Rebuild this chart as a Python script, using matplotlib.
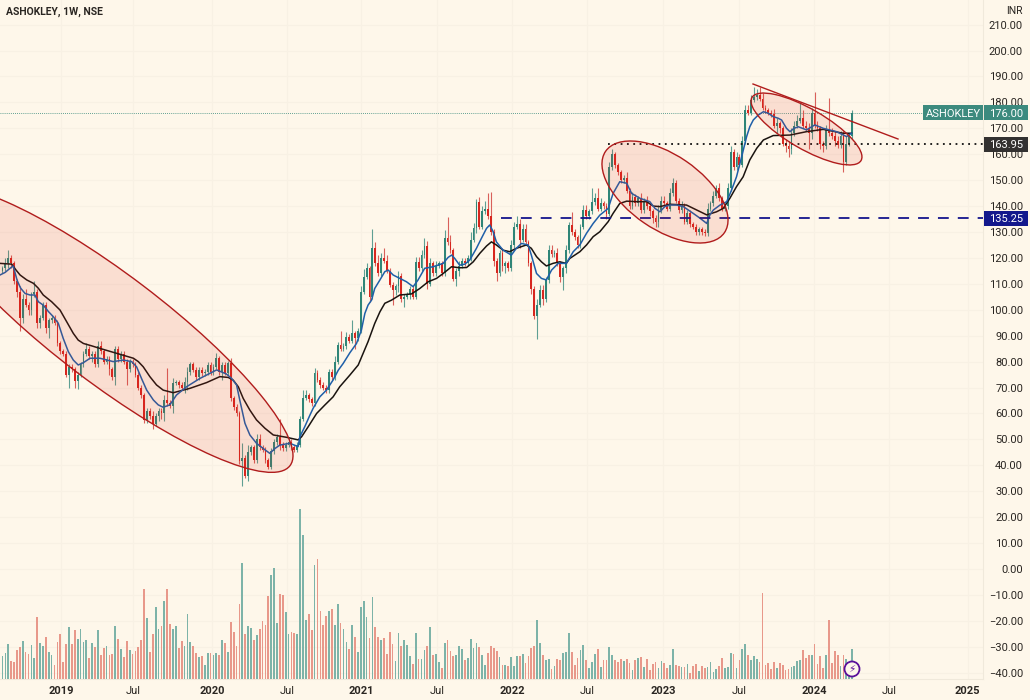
import numpy as np
import matplotlib
matplotlib.use('Agg')
import matplotlib.pyplot as plt
from matplotlib.patches import Ellipse, Rectangle, Circle

plt.rcParams['font.family'] = ['Roboto', 'DejaVu Sans']

# weekly closes, open of a week is taken as the previous close
closes = [
    116,118,120,118,111,107,97,104,102,100,
    106,107,95,97,102,93,96,97,95,87,
    84,83,75,78,77,72.5,75,79,83,85,
    82,83,79,86,84,80,81,77,74,85,
    81,83,80,77,80,79,75,70,67,57.5,
    61,59,56,59,61,60,65,64,63,71.8,
    72,71,70,72,76,79,76.8,74,76.8,75.5,
    76,78.7,76,78,81.3,76,78.7,75.7,79.3,65.8,
    62.5,60,41.5,43,36,45,47,42,50,47,
    46,42,39.5,45.5,49,51,47.8,46.5,48,49,
    47,46,48,58,66,67,65.5,64,75.6,73,
    71,70,69,76,74,80,86.4,85,86,89.6,
    88,91,89,92,107,112.7,116,105,124,118,
    114,120,119,115,109.6,107.6,109,113,104,105,
    106,108,105,118.4,116,121,124.6,110,118,114,
    117,118,114,127.7,126,123,112,115,117,119,
    118,120,127,131.5,141.6,132,138,139,136,130,
    119,114,122,117,118,116,125,132,133,127,
    131,126,118,108,97.6,102,107.6,104,111.5,123,
    121.5,122,118,112.6,116,123,132.7,130,128,125,
    132,138.5,136,138,141.5,143,139,141,140,137,
    155,160,155.8,153,150,151,146,140,143.5,141,
    143,138.5,142,140,138,135.5,134,138.5,142,141,
    139,145,149,142,138.5,140,134,137.5,133,132,
    130,131,130,129.5,139,141,144,147,143,139,
    140,147,161,155,159,156,165,177,176,181,
    182,183,181.5,178,177,176,175.5,171,172,170,
    164,163,162,168,171,173,174,171,170,168,
    176,171,170,164,163,169.3,168,167,165,163.5,
    167,157,164,167,176,
]
first_open = 115

up_wicks = [
    1,2,3,1,1,1,2,2,4,1,
    1,4,1,1,1,1,1,1,1,1,
    1,1,1,1,1,1,1,1,1,2,
    1,1,1,2,2,1,1,1,1,1,
    1,1,1,1,1,1,1,1,1,1,
    1,1,2,1,1,1,2,12.5,1,2,
    1,1,1,2,2,1,1,1,1,1,
    1,1,1,1,2,1,1,1,1,2,
    1,1,1,5.6,1,3,1,1,2,2,
    1,1,1,1,1,1,7,1,1,1,
    1,1,1,1,3,2,1,1,2,1,
    1,1,1,1,1,2,1,5.6,1,2,
    1,5,1,1,2,3,2,1,7,2,
    3,2,4,2,1,1,1,2,1,1,
    1,1,1,2,2,2,3,2,2,1,
    2,1,1,3,8,3,1,1,2,1,
    1,1,3,2,1,2,2,3,6,9.5,
    1,1,1,2,1,1,2,2,3,2,
    2,2,1,1,1,2,2,2,1,2,
    2,1,2,1,1,2,1,5,1,1,
    1,2,2,1,5.5,2,4,2,1,1,
    2,2,1,1,1,1,2,1,2,1,
    1,2,1,2,1,1,1,2,2,2,
    1,2,2,1,1,2,1,1,1,1,
    1,1,1,1,2,1,2,1,2,1,
    1,2,2,1,2,1,2,2,2,2,
    4,2,3,2,1,1,1,2,2,1,
    1,2,2,2,2,2,6,3,2,2,
    2,8,2,1,1,2,12.4,2,2,2,
    2,2,3,1,1,
]

down_wicks = [
    1,1,2,2,1,2,5,2,1,2,
    2,1,2,2,1,2,4,1,1,1,
    1,1,1,5,1,2.5,3,1,1,1,
    1,2,1,1,1,1,1,2,1,3,
    1,1,1,6,1,1,1,1,1,1,
    1,1,2,1,2,2,3,1,1,3,
    1,1,1,2,3,1,1,1,1,1,
    1,1,1,1,1,1,3,1,1,1,
    1,1,1,9.5,1,2,1,1,1,1,
    1,1,1,1,1,1,2,1,1,1,
    1,1,1,1,1,1,1,1,1,1,
    1,1,1,1,1,1,1,1,1,1,
    1,1,4,1,1,1,1,2,1,1,
    1,1,1,1,1,5.6,2,2,1,3,
    1,2,1,1,1,1,1,2,1,1,
    1,1,1,1,1,1,1,3,2,1,
    1,1,1,1,2,1,1,1,1,1,
    2,3,1,2,3,1,1,1,1,3,
    1,1,1,2,1,9,1,2,1,1,
    1,1,1,2,5,2,1,1,1,1,
    1,1,1,1,1,1,1,1,1,2,
    1,1,1,1,1,1,1,1,1,1,
    1,1,1,1,2,2,2,2,1,1,
    1,1,1,1,1,1,1,1,1,1,
    1,1,1,1,1,1,1,1,1,1,
    1,1,1,1,1,1,1,1,1,1,
    1,1,1,1,1,1,1,1,3,2,
    1,2,3,2,1,1,1,1,1,6,
    2,1,1,2,2,1,1,1,2,1,
    1,4,1,1,1,
]

volumes = [
    23,26,35,18,17,29,32,38,27,25,
    34,21,62,36,33,42,27,24,14,37,
    45,17,35,52,35,49,40,50,37,39,
    21,36,32,49,24,31,33,24,25,53,
    40,30,22,38,29,25,28,32,39,90,
    61,27,45,72,50,53,78,90,55,50,
    53,31,38,33,65,37,33,26,22,23,
    14,26,26,24,26,24,39,36,27,57,
    47,33,75,116,45,53,51,39,44,50,
    58,54,83,104,111,56,85,84,67,45,
    47,46,45,170,144,59,65,49,114,120,
    68,54,63,68,70,54,75,56,50,37,
    30,54,42,27,72,78,62,41,82,52,
    42,39,41,25,47,35,18,46,33,39,
    34,23,15,46,20,20,29,33,52,24,
    25,17,11,36,39,28,23,24,33,30,
    19,21,40,31,36,32,24,14,26,33,
    31,28,22,14,14,13,22,13,23,23,
    25,16,23,31,33,59,36,24,19,20,
    10,13,20,19,26,27,46,27,14,21,
    29,34,19,11,17,25,30,12,19,19,
    32,24,19,17,20,18,20,16,9,19,
    21,22,12,20,9,15,17,11,18,16,
    11,14,30,14,13,12,12,15,6,13,
    15,8,13,11,12,17,7,10,13,21,
    11,12,26,25,11,19,30,35,24,19,
    23,20,17,86,14,16,10,17,11,16,
    14,9,10,12,13,18,19,29,21,24,
    24,35,15,23,11,24,59,16,28,24,
    13,24,20,12,30,
]

blue_weeks = [
    -0.9,0.9,2.6,3.7,4.4,5.1,6.3,7.8,9.5,11.2,12.4,14.1,15.9,17.6,19.3,21,22.8,24.5,26.2,28,30.3,33.7,38.3,41.8,44.7,46.4,48.1,49.9,
    52.2,53.9,55.6,57.9,60.2,63.7,68.3,74.1,77.5,79.3,81,82.1,83.9,85.6,87.9,90.2,92.5,94.3,96,99.4,102.3,
    102.9,104.6,106.4,107.5,109.8,112.1,114.4,116.2,117.9,120.2,122.5,124.2,125.4,126.5,127.7,128.8,130.6,132.3,133.5,135.2,137.5,139.8,
    142.1,143.8,146.1,149,152.5,154.2,155.4,156.5,158.2,160,161.7,164,165.7,167.5,168.6,169.8,170.9,173.2,176.1,177.8,179.6,181.9,183,
    184.8,186.5,188.2,190,192.3,195.1,197.5,199.8,202.1,204.4,206.7,209.6,211.3,213.6,
    216,217.7,220.6,224,225.8,227.5,229.2,231,233.3,235.6,239,241.4,243.7,244.8,246,248.3,250.6,252.3,254,255.8,257.5,258.6,259.8,261.5,
    263.3,265,266.7,268.4,269.6,271.3,272.5,273.9,275.4,278.2,281.1,284,288.6,292.1,293.8,
]
blue_vals = [
    113.4,114.4,116,116.9,114,111.2,108.3,106.3,105.7,105.7,103.1,101.8,99.3,97.3,94.8,89,83.8,80.6,78.7,79.6,81.3,81.3,80,80.6,80,78,73.5,69,
    65.2,63.3,62.4,63.3,67.1,70.3,73.5,76.8,75.2,73.5,71,65.2,56.2,51.7,48.5,46.5,44.6,46.5,47.8,48.5,47.2,
    51,54.9,59.4,62,66.4,69,72.9,76.7,79.3,83.4,87,92.2,98.6,101.8,103.7,108.2,111.5,114.7,115.3,113.4,112.1,110.8,
    108.9,111.5,116,116.6,117.9,120.2,121.1,119.8,117.2,117.6,119.2,123.7,127.5,131.4,132.7,130.1,126.2,123,121.1,123.7,125.6,125,121.1,
    114,112.1,111.5,115.3,117.9,117.9,122.4,125,129.5,133.3,136.5,139.1,144.9,149.4,
    148.8,144.9,143,141.7,139.1,137.8,139.8,140.4,140.4,139.8,137.2,135.3,133.3,136.6,138.5,140.4,141.7,146.2,151.3,159.1,166.8,170.6,173.2,175.1,
    176.4,175.8,174.5,173.9,173.2,170,168.7,170,170.6,169.4,171.3,170,168.7,166.8,168.1,
]
black_weeks = [
    -0.9,3.2,4.7,6.1,8.4,10.7,12.4,14.1,17,19.9,22.2,24.5,26.2,28,30.8,33.7,39.5,45.3,47,48.7,51,53.3,55.6,59.1,64.9,70.6,75.2,78.1,79.8,
    81.6,83.3,85.6,87.9,90.8,93.7,98.3,102.3,
    103.5,105.8,108.7,111.5,114.4,116.7,120.2,123.1,124.8,126.5,128.8,130.6,132.3,134.6,137.5,141.5,144.4,147.3,150.2,152.5,155.4,158.2,
    160.6,162.9,165.2,167.5,169.2,170.9,173.2,175.5,177.8,181.3,183,184.8,186.5,188.2,190.5,192.8,195.1,196.3,199.8,202.1,204.4,206.7,
    209.6,211.3,213.6,
    216,219.4,222.9,225.2,227.5,231,236.7,240.2,243.7,247.1,249.4,251.7,254,256.3,258.6,261,263.3,266.7,272.5,278.2,284,290.9,293.8,
]
black_vals = [
    117.9,117.6,115.3,113.4,111.5,110.2,108.3,105.7,103.1,99.9,95.4,90.9,88.3,87,86.1,85.1,83.2,81.3,80,78,74.2,71,69,68,69.7,71.9,74.2,73.9,72.9,
    70.3,65.8,61.3,57.5,54.3,51.7,50.8,49.8,
    51,54.9,60,63.2,66.4,70.3,74.8,78.7,83.2,87.7,94.7,99.2,102.5,103.7,105.7,106.1,108.2,110.8,112.1,114,116.6,116.2,
    116.3,118.5,121.8,124.6,126.2,125,123,122.4,123.7,125,123.7,120.5,118.5,116.9,117.9,118.5,117.9,119.8,122.4,125,128.2,130.1,
    134,137.2,141,
    141.9,141.7,141.7,140,139.8,140.7,140.4,138.5,136.6,137.8,139.1,143,147.5,151.3,157.8,162.3,165.5,167.2,167.4,168.7,169.6,168.1,168.1,
]

year_ticks = [20.2, 45.2, 72.5, 98.4, 124, 150.3, 176.3, 202.4, 228.5, 254.8, 280.8, 306.8, 334]
year_labels = ['2019', 'Jul', '2020', 'Jul', '2021', 'Jul', '2022', 'Jul', '2023', 'Jul', '2024', 'Jul', '2025']
price_ticks = list(range(-40, 220, 10))

last_price = 176.00
support_dotted = 163.95
support_dashed = 135.25

BG = '#FEF7EA'
GRID = '#F8F1E4'
UP = '#2F8577'
DOWN = '#D7261E'
UP_VOL = '#7DB3A8'
DOWN_VOL = '#E8988A'
DRAW = '#B01C1C'

closes = np.array(closes, dtype=float)
opens = np.r_[first_open, closes[:-1]]
tops = np.maximum(opens, closes)
bots = np.minimum(opens, closes)
highs = tops + np.array(up_wicks)
lows = bots - np.array(down_wicks)
weeks = np.arange(len(closes))
is_up = closes >= opens

fig = plt.figure(figsize=(10.3, 7), dpi=100, facecolor=BG)
ax = fig.add_axes([0, 21 / 700, 983 / 1030, 679 / 700], facecolor=BG)
ax.set_xlim(-0.865, 339.3)
ax.set_ylim(-42.44, 219.5)

# volume lives on its own scale, under the price
ax_vol = fig.add_axes(ax.get_position(), sharex=ax)
ax_vol.patch.set_alpha(0)
ax_vol.set_ylim(0, 679)
ax_vol.axis('off')
ax_vol.bar(weeks, volumes, width=0.6, color=[UP_VOL if u else DOWN_VOL for u in is_up], linewidth=0)

wick_cols = ['#5E9F93' if u else '#D9605A' for u in is_up]
ax.vlines(weeks, lows, highs, colors=wick_cols, linewidth=0.8, zorder=3)
ax.bar(weeks, np.maximum(tops - bots, 0.5), bottom=bots, width=0.62,
       color=[UP if u else DOWN for u in is_up], linewidth=0, zorder=4)

ax.plot(black_weeks, black_vals, color='#1A1410', lw=1.1, zorder=5, solid_joinstyle='round')
ax.plot(blue_weeks, blue_vals, color='#1F5FA8', lw=1.1, zorder=5, solid_joinstyle='round')

ax.plot([-1, 340], [last_price, last_price], color=UP, lw=0.6, ls=(0, (1, 1.5)), zorder=2)
ax.plot([209.5, 340], [support_dotted, support_dotted], color='#111111', lw=1.3, ls=(0, (1, 2.5)), zorder=6)
ax.plot([172.5, 340], [support_dashed, support_dashed], color='#14148C', lw=1.3, ls=(0, (6, 5)), zorder=6)

ax.set_xticks(year_ticks)
ax.set_xticklabels(year_labels)
for lab in ax.get_xticklabels():
    if lab.get_text() != 'Jul':
        lab.set_fontweight('bold')
    lab.set_fontsize(8)
    lab.set_color('#2A2622')
ax.set_yticks(price_ticks)
ax.set_yticklabels([f'{v:.2f}'.replace('-', '\u2212') for v in price_ticks])
ax.yaxis.tick_right()
ax.tick_params(axis='y', length=0, pad=28.8, labelsize=8, labelcolor='#2A2622')
ax.tick_params(axis='x', length=0, pad=5)
for lab in ax.get_yticklabels():
    lab.set_ha('right')
ax.grid(True, color=GRID, lw=0.8)
ax.set_axisbelow(True)
for side in ['top', 'left']:
    ax.spines[side].set_visible(False)
ax.spines['right'].set_color('#F0E9DB')
ax.spines['bottom'].set_color('#F0E9DB')

# drawings and price tags, in picture pixels
ax_px = fig.add_axes([0, 0, 1, 1], zorder=10)
ax_px.set_xlim(0, 1030)
ax_px.set_ylim(700, 0)
ax_px.axis('off')
ax_px.patch.set_alpha(0)

for cx, cy, w, h, ang in [(110, 329, 452, 109, 37.2), (665, 192, 144, 74.6, 34.4), (806.5, 129, 126, 40, 30)]:
    ax_px.add_patch(Ellipse((cx, cy), w, h, angle=ang, facecolor=(0.88, 0.18, 0.12, 0.12), edgecolor=DRAW, lw=1.0))
ax_px.plot([753, 898], [84, 139], color=DRAW, lw=1.0)

def py(p):
    return 569 - 2.592 * p

def tag(x0, x1, p, text, color):
    y = py(p)
    ax_px.add_patch(Rectangle((x0, y - 7.5), x1 - x0, 15, facecolor=color, edgecolor='none'))
    ax_px.text((x0 + x1) / 2, y, text, color='white', fontsize=8, ha='center', va='center_baseline')

tag(923, 983, last_price, 'ASHOKLEY', '#3C8A7E')
tag(984, 1028, last_price, f'{last_price:.2f}', '#3C8A7E')
tag(984, 1028, support_dotted, f'{support_dotted:.2f}', '#333130')
tag(984, 1028, support_dashed, f'{support_dashed:.2f}', '#13188C')

ax_px.text(6, 12, 'ASHOKLEY, 1W, NSE', fontsize=7.5, fontweight='bold', color='#2A2622', ha='left', va='center')
ax_px.text(1023, 11, 'INR', fontsize=7.5, color='#2A2622', ha='right', va='center')

ax_px.add_patch(Circle((852, 669), 7.5, facecolor=BG, edgecolor='#5A0F9A', lw=1.3))
ax_px.text(852, 669, '\u26a1', fontsize=7.5, color='#5A0F9A', ha='center', va='center', family='DejaVu Sans')

fig.savefig('out.png', dpi=100, facecolor=BG)
